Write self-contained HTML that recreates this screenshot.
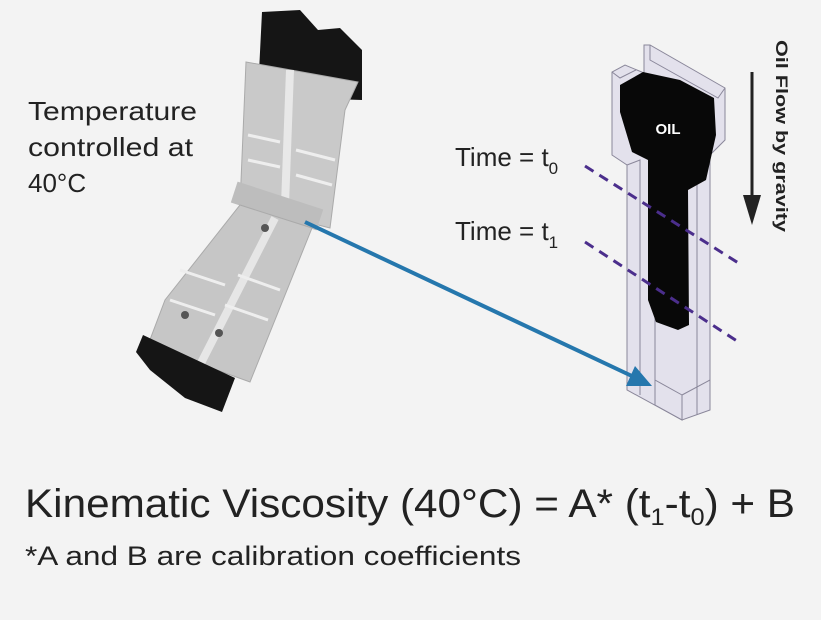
<!DOCTYPE html>
<html><head><meta charset="utf-8"><style>
html,body{margin:0;padding:0;background:#f3f3f3;}
svg{display:block;font-family:"Liberation Sans",Arial,sans-serif;}
</style></head><body>
<svg width="821" height="620" viewBox="0 0 821 620" xmlns="http://www.w3.org/2000/svg">
<rect width="821" height="620" fill="#f3f3f3"/>
<!-- left text -->
<g font-size="26" fill="#222">
<text x="28" y="120" textLength="169" lengthAdjust="spacingAndGlyphs">Temperature</text>
<text x="28" y="156" textLength="165" lengthAdjust="spacingAndGlyphs">controlled at</text>
<text x="28" y="192">40°C</text>
</g>
<!-- device: top black -->
<path d="M262,12 L300,10 L318,30 L340,28 L362,50 L362,100 L300,98 L258,92 Z" fill="#151515"/>
<!-- upper plate -->
<path d="M246,62 L358,82 L345,110 L330,228 L240,205 Z" fill="#c9c9c9" stroke="#aaa"/>
<path d="M290,70 L285,205" stroke="#e8e8e8" stroke-width="8"/>
<g stroke="#eee" stroke-width="3">
<line x1="248" y1="135" x2="280" y2="142"/><line x1="248" y1="160" x2="280" y2="167"/>
<line x1="296" y1="150" x2="335" y2="160"/><line x1="296" y1="175" x2="332" y2="185"/>
</g>
<!-- hinge -->
<rect x="232" y="195" width="90" height="22" fill="#bdbdbd" transform="rotate(18 277 206)"/>
<!-- lower plate -->
<path d="M240,205 L312,228 L250,382 L148,345 L165,300 Z" fill="#c6c6c6" stroke="#aaa"/>
<path d="M275,218 L200,365" stroke="#e6e6e6" stroke-width="8"/>
<g stroke="#eee" stroke-width="3">
<line x1="180" y1="270" x2="225" y2="285"/><line x1="170" y1="300" x2="215" y2="315"/>
<line x1="238" y1="275" x2="280" y2="290"/><line x1="225" y1="305" x2="268" y2="320"/>
</g>
<circle cx="265" cy="228" r="4" fill="#555"/><circle cx="185" cy="315" r="4" fill="#555"/><circle cx="219" cy="333" r="4" fill="#555"/>
<!-- bottom black -->
<path d="M143,335 L235,378 L222,412 L185,398 L150,370 L136,352 Z" fill="#151515"/>
<!-- channel -->
<g fill="#dcd9e8" fill-opacity="0.7" stroke="#8a879a" stroke-width="1">
<path d="M644,45 L650,45 L725,88 L725,140 L710,155 L710,410 L682,420 L627,390 L627,165 L612,155 L612,72 L625,65 L644,73 Z"/>
</g>
<g fill="none" stroke="#8a879a" stroke-width="1">
<path d="M650,45 L650,60 L718,98 L725,88"/>
<path d="M612,72 L620,78 L636,70"/>
<path d="M627,165 L640,160 L640,395"/>
<path d="M697,150 L697,415"/>
<path d="M655,315 L655,405 L682,420 L682,395 L655,380"/>
<path d="M682,395 L710,380"/>
</g>
<path d="M643,72 L680,80 L714,98 L716,135 L706,180 L688,190 L689,325 L678,330 L656,322 L648,300 L648,160 L632,152 L620,112 L620,85 Z" fill="#080808"/>
<text x="668" y="134" fill="#fff" font-weight="bold" font-size="15" text-anchor="middle">OIL</text>
<!-- blue arrow -->
<line x1="305" y1="222" x2="634" y2="377" stroke="#2577ad" stroke-width="4"/>
<path d="M652,386 L626,386 L635,366 Z" fill="#2577ad"/>
<!-- dashed lines -->
<g stroke="#4b2e8c" stroke-width="3" stroke-dasharray="10,7">
<line x1="585" y1="166" x2="740" y2="264"/>
<line x1="585" y1="242" x2="740" y2="343"/>
</g>
<!-- time labels -->
<g font-size="26" fill="#222">
<text x="455" y="166">Time = t<tspan font-size="17" dy="8">0</tspan></text>
<text x="455" y="240">Time = t<tspan font-size="17" dy="8">1</tspan></text>
</g>
<!-- gravity arrow -->
<line x1="752" y1="72" x2="752" y2="200" stroke="#222" stroke-width="3"/>
<path d="M743,195 L761,195 L752,225 Z" fill="#222"/>
<text transform="translate(776,40) rotate(90)" font-size="17" font-weight="bold" fill="#222" textLength="192" lengthAdjust="spacingAndGlyphs">Oil Flow by gravity</text>
<!-- formula -->
<text x="25" y="517" font-size="40" fill="#222" textLength="770" lengthAdjust="spacingAndGlyphs">Kinematic Viscosity (40°C) = A* (t<tspan font-size="24" dy="8">1</tspan><tspan dy="-8">-t</tspan><tspan font-size="24" dy="8">0</tspan><tspan dy="-8">) + B</tspan></text>
<text x="25" y="565" font-size="27" fill="#222" textLength="496" lengthAdjust="spacingAndGlyphs">*A and B are calibration coefficients</text>
</svg>
</body></html>
